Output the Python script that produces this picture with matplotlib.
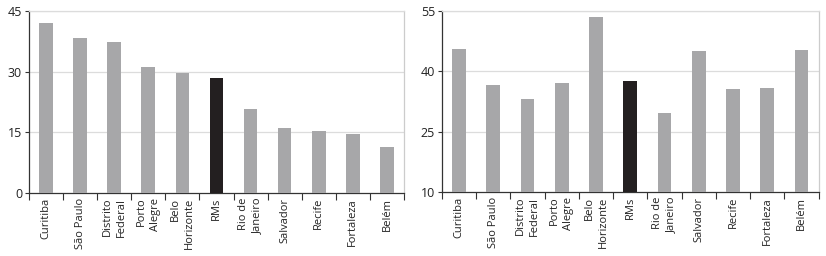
import numpy as np
import matplotlib
matplotlib.use('Agg')
import matplotlib.pyplot as plt

cities = ["Curitiba", "São Paulo", "Distrito\nFederal", "Porto\nAlegre", "Belo\nHorizonte",
          "RMs", "Rio de\nJaneiro", "Salvador", "Recife", "Fortaleza", "Belém"]
left_values = [41.9, 38.2, 37.3, 31.1, 29.7, 28.4, 20.9, 16.0, 15.3, 14.7, 11.3]
right_values = [45.5, 36.6, 33.0, 37.0, 53.4, 37.6, 29.7, 45.0, 35.5, 35.8, 45.3]
left_ticks = [0, 15, 30, 45]
right_ticks = [10, 25, 40, 55]
highlight = "RMs"

plt.rcParams['font.family'] = ['Open Sans', 'DejaVu Sans']

fig = plt.figure(figsize=(8.26, 2.56), dpi=100)
ax1 = fig.add_axes([0.0351, 0.245, 0.454, 0.713])
ax2 = fig.add_axes([0.535, 0.249, 0.456, 0.709])


def draw(ax, values, yticks):
    x = np.arange(len(cities))
    colors = ['#231f20' if c == highlight else '#a7a7a9' for c in cities]
    ax.bar(x, [v - yticks[0] for v in values], bottom=yticks[0], width=0.4,
           color=colors, zorder=3)
    ax.set_xlim(-0.5, len(cities) - 0.5)
    ax.set_ylim(yticks[0], yticks[-1])
    ax.set_yticks(yticks)
    ax.set_yticklabels([str(t) for t in yticks], fontsize=9, color='#222222')
    for t in yticks[1:]:
        ax.axhline(t, color='#dcdcdc', lw=0.9, zorder=1)
    ax.set_xticks(np.arange(-0.5, len(cities)))
    ax.set_xticklabels([])
    ax.tick_params(axis='x', length=5, width=0.8, color='#333333')
    ax.tick_params(axis='y', length=3, width=0.8, color='#333333', pad=2)
    for xi, name in zip(x, cities):
        ax.text(xi, yticks[0] - (yticks[-1] - yticks[0]) * 0.025, name,
                rotation=90, ha='center', va='top', multialignment='right',
                fontsize=8, color='#222222', linespacing=1.35)
    ax.spines['left'].set_color('#333333')
    ax.spines['bottom'].set_color('#333333')
    ax.spines['right'].set_color('#cccccc')
    ax.spines['top'].set_color('#dcdcdc')
    for s in ax.spines.values():
        s.set_linewidth(0.9)


draw(ax1, left_values, left_ticks)
draw(ax2, right_values, right_ticks)

fig.savefig('out.png', dpi=100)
